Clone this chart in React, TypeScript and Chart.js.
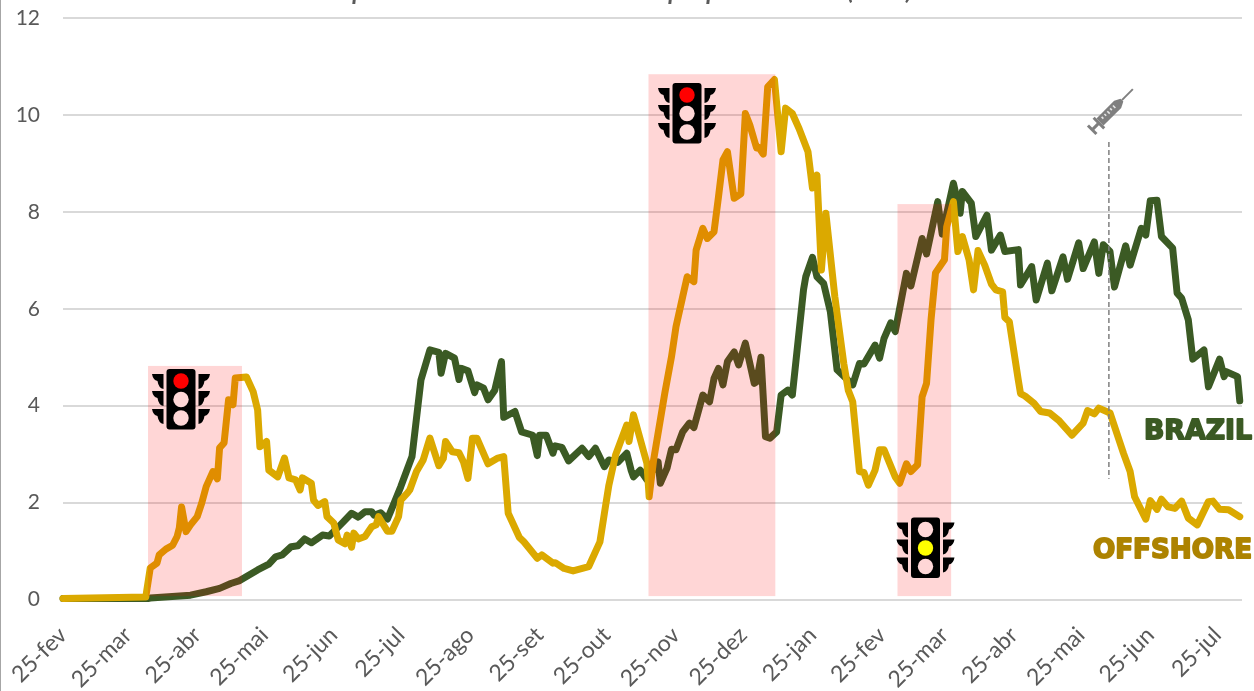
import React, { useEffect, useRef } from "react";
import { Chart, registerables } from "chart.js";

Chart.register(...registerables);

const tickDays = [0, 29, 60, 90, 121, 151, 182, 213, 243, 274, 304, 335, 366, 394, 425, 455, 486, 516];
const tickLabels = ["25-fev", "25-mar", "25-abr", "25-mai", "25-jun", "25-jul", "25-ago", "25-set", "25-out", "25-nov", "25-dez", "25-jan", "25-fev", "25-mar", "25-abr", "25-mai", "25-jun", "25-jul"];

const offshoreDays = [0, 37, 39, 42, 43, 46, 49, 51, 52, 53, 55, 57, 60, 62, 64, 67, 69, 70, 72, 74, 76, 77, 82, 85, 87, 88, 91, 92, 96, 99, 101, 104, 106, 107, 111, 112, 114, 117, 118, 121, 123, 126, 127, 129, 130, 132, 135, 138, 140, 141, 145, 147, 150, 151, 154, 155, 158, 161, 164, 168, 170, 171, 174, 177, 179, 181, 183, 185, 190, 194, 197, 199, 204, 206, 212, 214, 219, 220, 224, 228, 235, 240, 242, 244, 247, 252, 253, 255, 261, 262, 264, 269, 272, 274, 277, 279, 282, 283, 286, 288, 291, 293, 295, 297, 300, 303, 305, 307, 310, 311, 313, 315, 318, 321, 323, 326, 329, 333, 335, 337, 339, 341, 345, 349, 351, 353, 356, 358, 360, 363, 365, 367, 372, 374, 377, 379, 382, 384, 386, 388, 390, 394, 395, 398, 400, 402, 405, 407, 409, 412, 415, 417, 420, 421, 423, 427, 428, 430, 434, 437, 441, 445, 451, 456, 458, 461, 463, 468, 474, 477, 479, 484, 486, 489, 491, 494, 497, 500, 503, 507, 512, 514, 517, 521, 526];
const offshoreValues = [0.02, 0.05, 0.65, 0.75, 0.92, 1.04, 1.12, 1.3, 1.48, 1.91, 1.4, 1.54, 1.71, 1.99, 2.33, 2.64, 2.49, 3.13, 3.23, 4.12, 4.02, 4.57, 4.59, 4.29, 3.91, 3.15, 3.26, 2.67, 2.53, 2.92, 2.51, 2.47, 2.26, 2.51, 2.4, 2.05, 1.94, 2.02, 1.71, 1.58, 1.23, 1.15, 1.33, 1.08, 1.37, 1.25, 1.3, 1.5, 1.54, 1.71, 1.41, 1.41, 1.71, 2.05, 2.2, 2.26, 2.64, 2.88, 3.33, 2.76, 2.91, 3.26, 3.05, 3.03, 2.84, 2.5, 3.33, 3.33, 2.8, 2.91, 2.95, 1.78, 1.28, 1.19, 0.85, 0.92, 0.75, 0.76, 0.64, 0.59, 0.68, 1.19, 1.78, 2.36, 2.98, 3.6, 3.26, 3.81, 2.81, 2.12, 2.88, 4.26, 5.01, 5.63, 6.25, 6.66, 6.56, 7.21, 7.66, 7.45, 7.59, 8.31, 9.07, 9.24, 8.28, 8.37, 10.03, 9.79, 9.32, 9.33, 9.19, 10.58, 10.73, 9.24, 10.14, 10.03, 9.72, 9.24, 8.49, 8.76, 6.8, 7.97, 6.25, 4.87, 4.32, 4.08, 2.64, 2.62, 2.36, 2.67, 3.09, 3.09, 2.53, 2.4, 2.8, 2.64, 2.78, 4.18, 4.46, 5.77, 6.74, 7.01, 7.69, 8.21, 7.18, 7.49, 7.01, 6.39, 7.2, 6.9, 6.51, 6.39, 6.35, 5.82, 5.73, 4.53, 4.25, 4.2, 4.05, 3.88, 3.85, 3.7, 3.39, 3.64, 3.9, 3.83, 3.95, 3.85, 3.02, 2.64, 2.12, 1.66, 2.04, 1.86, 2.07, 1.91, 1.88, 2.03, 1.68, 1.54, 2.02, 2.03, 1.86, 1.85, 1.71];

const brazilDays = [0, 38, 39, 57, 64, 70, 75, 79, 87, 92, 95, 98, 102, 105, 108, 111, 116, 119, 124, 129, 132, 135, 138, 139, 142, 145, 148, 151, 156, 160, 164, 168, 169, 171, 175, 177, 178, 181, 184, 185, 188, 190, 193, 196, 197, 202, 205, 210, 212, 213, 216, 219, 220, 223, 226, 232, 235, 238, 242, 244, 248, 252, 254, 255, 258, 261, 266, 267, 270, 272, 274, 277, 280, 282, 286, 289, 291, 293, 295, 297, 300, 302, 305, 309, 310, 312, 314, 316, 319, 321, 324, 326, 331, 332, 335, 337, 340, 343, 346, 353, 356, 358, 363, 365, 367, 370, 372, 377, 379, 384, 386, 391, 393, 398, 401, 402, 406, 408, 413, 415, 419, 421, 427, 428, 433, 435, 440, 442, 447, 449, 454, 456, 461, 463, 465, 468, 470, 475, 477, 482, 484, 486, 489, 491, 496, 498, 500, 503, 505, 510, 512, 517, 519, 520, 525, 526];
const brazilValues = [0.02, 0.02, 0.03, 0.09, 0.16, 0.23, 0.33, 0.39, 0.61, 0.73, 0.88, 0.92, 1.09, 1.11, 1.25, 1.17, 1.33, 1.31, 1.54, 1.78, 1.7, 1.81, 1.81, 1.74, 1.79, 1.66, 1.99, 2.33, 2.95, 4.53, 5.15, 5.1, 4.67, 5.08, 4.98, 4.54, 4.77, 4.72, 4.27, 4.43, 4.36, 4.12, 4.32, 4.91, 3.76, 3.88, 3.46, 3.39, 2.97, 3.39, 3.39, 3.02, 3.17, 3.14, 2.86, 3.12, 2.95, 3.12, 2.74, 2.88, 2.83, 3.02, 2.66, 2.53, 2.67, 2.47, 2.84, 2.4, 2.71, 3.1, 3.09, 3.46, 3.64, 3.55, 4.22, 4.08, 4.56, 4.77, 4.43, 4.91, 5.11, 4.84, 5.29, 4.46, 4.49, 5.0, 3.36, 3.33, 3.46, 4.22, 4.32, 4.22, 6.39, 6.66, 7.06, 6.66, 6.52, 5.94, 4.74, 4.43, 4.87, 4.86, 5.25, 4.98, 5.39, 5.71, 5.53, 6.73, 6.47, 7.45, 7.13, 8.21, 7.54, 8.59, 7.97, 8.42, 8.18, 7.49, 7.93, 7.21, 7.52, 7.18, 7.22, 6.49, 6.87, 6.18, 6.94, 6.37, 7.07, 6.61, 7.36, 6.83, 7.38, 6.73, 7.32, 7.18, 6.45, 7.3, 6.9, 7.66, 7.52, 8.23, 8.24, 7.49, 7.25, 6.32, 6.22, 5.77, 4.96, 5.15, 4.39, 4.96, 4.6, 4.7, 4.6, 4.1];

const vaccineDays = [467.5, 467.5];
const vaccineValues = [9.44, 2.49];

const regionStartDays = [38, 261.7, 373];
const regionEndDays = [80, 318.4, 397];
const regionTopValues = [4.82, 10.84, 8.16];
const regionBottomValues = [0.07, 0.07, 0.07];

const GREEN = "#3b5a24";
const GOLD = "#dba900";
const AXIS_TEXT = "#595959";
const PINK_OVER = "rgba(255,0,0,0.16)";
const PINK_SOLID = "#ffd7d7";
const LABEL_FONT = "Lato";

function pts(days: number[], values: number[]) {
  return days.map((x, i) => ({ x, y: values[i] }));
}

function trafficLight(ctx: CanvasRenderingContext2D, cx: number, top: number, lit: number, litColor: string) {
  ctx.save();
  ctx.fillStyle = "#000";
  ctx.beginPath();
  ctx.roundRect(cx - 14.5, top, 29, 60.5, 3);
  ctx.fill();
  for (const off of [5, 22, 40]) {
    for (const side of [-1, 1]) {
      const inner = cx + side * 17.5;
      const outer = cx + side * 29;
      const y = top + off;
      ctx.beginPath();
      ctx.moveTo(outer, y);
      ctx.lineTo(inner, y);
      ctx.lineTo(inner, y + 15);
      ctx.quadraticCurveTo(inner + side * 5, y + 14, inner + side * 6, y + 7);
      ctx.quadraticCurveTo(outer - side * 1, y + 6, outer, y);
      ctx.fill();
    }
  }
  [12, 30.5, 49].forEach((dy, i) => {
    ctx.beginPath();
    ctx.arc(cx, top + dy, 7.7, 0, Math.PI * 2);
    ctx.fillStyle = i === lit ? litColor : PINK_SOLID;
    ctx.fill();
  });
  ctx.restore();
}

function syringe(ctx: CanvasRenderingContext2D, cx: number, cy: number) {
  ctx.save();
  ctx.translate(cx, cy);
  ctx.rotate(-Math.PI / 4);
  ctx.fillStyle = "#7f7f7f";
  ctx.fillRect(-29.5, -6, 3, 12);
  ctx.fillRect(-27, -1.5, 8, 3);
  ctx.fillRect(-20, -7.5, 3, 15);
  ctx.beginPath();
  ctx.moveTo(-17, -5);
  ctx.lineTo(8, -5);
  ctx.lineTo(14, -2);
  ctx.lineTo(14, 2);
  ctx.lineTo(8, 5);
  ctx.lineTo(-17, 5);
  ctx.closePath();
  ctx.fill();
  ctx.fillRect(14, -1, 15.5, 2);
  ctx.fillStyle = "#e6e6e6";
  for (const x of [-13, -9, -5, -1, 3]) ctx.fillRect(x, -2.5, 1.6, x === -5 || x === 3 ? 3.5 : 2.5);
  ctx.restore();
}

const overlayPlugin = {
  id: "overlay",
  afterDraw(chart: any) {
    const { ctx, scales } = chart;
    const sx = scales.x;
    const sy = scales.y;
    ctx.save();
    ctx.fillStyle = PINK_OVER;
    regionStartDays.forEach((d, i) => {
      const x0 = sx.getPixelForValue(d);
      const x1 = sx.getPixelForValue(regionEndDays[i]);
      const y0 = sy.getPixelForValue(regionTopValues[i]);
      const y1 = sy.getPixelForValue(regionBottomValues[i]);
      ctx.fillRect(x0, y0, x1 - x0, y1 - y0);
    });
    trafficLight(ctx, 181, 369, 0, "#ff0000");
    trafficLight(ctx, 687, 83, 0, "#ff0000");
    trafficLight(ctx, 925.5, 517.5, 1, "#ffff00");
    syringe(ctx, 1112, 110);

    ctx.font = "bold 27px 'DejaVu Sans'";
    ctx.textAlign = "right";
    ctx.textBaseline = "alphabetic";
    ctx.lineJoin = "round";
    ctx.lineWidth = 1.8;
    ctx.fillStyle = GREEN;
    ctx.strokeStyle = GREEN;
    ctx.fillText("BRAZIL", 1252, 438.5, 108);
    ctx.strokeText("BRAZIL", 1252, 438.5, 108);
    ctx.fillStyle = "#ad8300";
    ctx.strokeStyle = "#ad8300";
    ctx.fillText("OFFSHORE", 1252, 557.5, 159);
    ctx.strokeText("OFFSHORE", 1252, 557.5, 159);

    ctx.font = "italic 34px " + LABEL_FONT;
    ctx.textAlign = "left";
    ctx.fillStyle = AXIS_TEXT;
    ctx.fillText("p", 352, -2);
    ctx.fillText("p", 668, -2);
    ctx.fillText("p", 706, -2);
    ctx.fillText("(", 846, -2);
    ctx.fillText(")", 906, -2);
    ctx.restore();
  },
};

export default function App() {
  const ref = useRef<HTMLCanvasElement>(null);
  useEffect(() => {
    if (!ref.current) return;
    const chart = new Chart(ref.current, {
      type: "line",
      data: {
        datasets: [
          { label: "Vaccination", data: pts(vaccineDays, vaccineValues), borderColor: "#7f7f7f", borderWidth: 1.5, borderDash: [5, 3], pointRadius: 0, clip: false },
          { label: "OFFSHORE", data: pts(offshoreDays, offshoreValues), borderColor: GOLD, borderWidth: 7, pointRadius: 0, tension: 0, borderJoinStyle: "round", borderCapStyle: "round", clip: false },
          { label: "BRAZIL", data: pts(brazilDays, brazilValues), borderColor: GREEN, borderWidth: 7, pointRadius: 0, tension: 0, borderJoinStyle: "round", borderCapStyle: "round", clip: false },
        ],
      },
      options: {
        animation: false,
        responsive: false,
        parsing: false,
        layout: { padding: { top: 18, right: 12, left: 0, bottom: 0 } },
        plugins: { legend: { display: false }, title: { display: false }, tooltip: { enabled: false } },
        scales: {
          x: {
            type: "linear",
            min: 0,
            max: 527,
            afterBuildTicks: (s: any) => { s.ticks = tickDays.map((value) => ({ value })); },
            afterFit: (s: any) => { s.height = 91.5; s.paddingLeft = 0; s.paddingRight = 0; s.paddingTop = 0; s.paddingBottom = 0; },
            grid: { display: false, drawTicks: false },
            border: { display: false },
            ticks: {
              autoSkip: false,
              maxRotation: 45,
              minRotation: 45,
              padding: 22,
              color: AXIS_TEXT,
              font: { family: LABEL_FONT, size: 23 },
              callback: (_v: any, i: number) => tickLabels[i],
            },
          },
          y: {
            type: "linear",
            min: 0,
            max: 12,
            afterFit: (s: any) => { s.width = 63; s.paddingTop = 0; s.paddingBottom = 0; s.paddingLeft = 0; s.paddingRight = 0; },
            grid: { color: "#d9d9d9", lineWidth: 2, drawTicks: false },
            border: { display: false },
            ticks: { stepSize: 2, padding: 23, color: AXIS_TEXT, font: { family: LABEL_FONT, size: 21 } },
          },
        },
      },
      plugins: [overlayPlugin],
    } as any);
    return () => chart.destroy();
  }, []);
  return (
    <div style={{ position: "fixed", left: 0, top: 0, width: 1254, height: 691, background: "#fff" }}>
      <div style={{ position: "absolute", left: 0, top: 0, width: 1, height: 691, background: "#a6a6a6" }} />
      <canvas ref={ref} width={1254} height={691} style={{ display: "block" }} />
    </div>
  );
}
